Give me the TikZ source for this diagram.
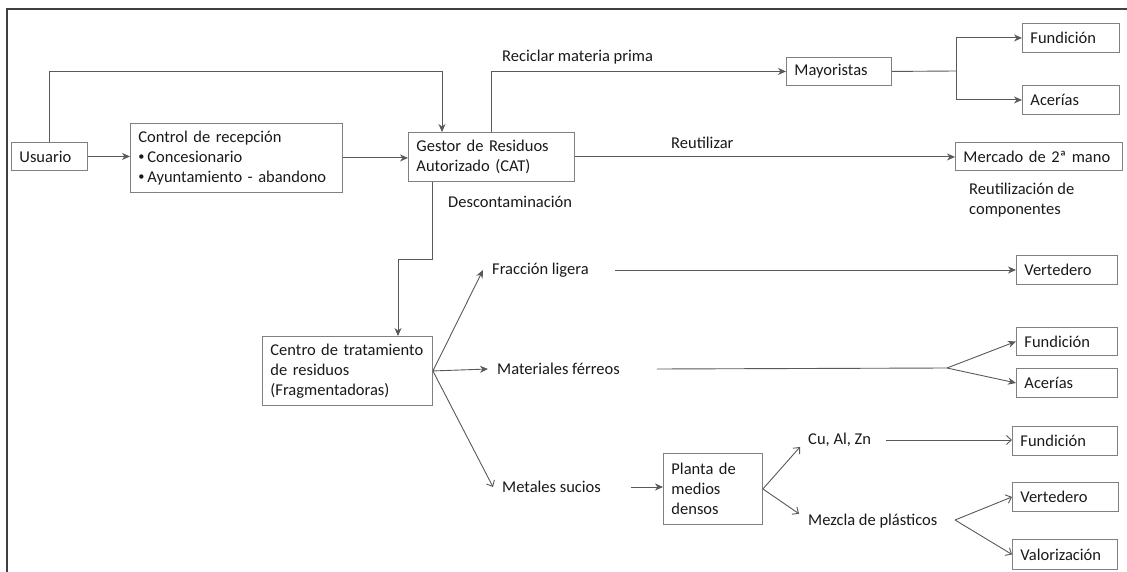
\documentclass[tikz,border=0pt]{standalone}
\usepackage{fontspec}
\setmainfont{Carlito}
\usetikzlibrary{positioning}
\usetikzlibrary{arrows.meta}
\usetikzlibrary{calc}
\tikzset{>={Stealth[length=8pt,width=7pt,inset=2.5pt]}}
\tikzset{caja/.style={draw=black!50, line width=0.9pt, anchor=north west, align=left, inner xsep=8pt, inner ysep=0pt, text=black!90}}
\tikzset{etq/.style={anchor=west, inner sep=0pt, text=black!90}}
\tikzset{flecha/.style={line width=0.9pt, draw=black!65}}
\tikzset{fino/.style={flecha, -{Straight Barb[length=5pt,width=9pt]}}}
\newcommand{\vineta}{\raisebox{0.12em}{\scalebox{0.75}{\textbullet}}\,}

\begin{document}
\begin{tikzpicture}[x=1pt, y=-1pt, font=\fontsize{16.5}{20}\selectfont]
\useasboundingbox (0,0) rectangle (1127,572);
% marco
\draw[black!75, line width=2pt] (7,572) -- (7,9) -- (1127,9);

% cajas
\node[caja, text width=60pt, minimum height=28pt] (usuario) at (11,142) {Usuario};
\node[caja, text width=196pt, minimum height=69pt] (control) at (130,123) {Control de recepción\\\vineta Concesionario\\\vineta Ayuntamiento - abandono};
\node[caja, text width=150pt, minimum height=49pt] (gestor) at (408,132) {Gestor de Residuos\\Autorizado (CAT)};
\node[caja, text width=89pt, minimum height=28pt] (mayoristas) at (786,57) {Mayoristas};
\node[caja, text width=81pt, minimum height=29pt] (fund1) at (1022,23) {Fundición};
\node[caja, text width=81pt, minimum height=29pt] (acer1) at (1022,85) {Acerías};
\node[caja, text width=151pt, minimum height=28pt] (mercado) at (955,142) {Mercado de 2ª mano};
\node[caja, text width=154pt, minimum height=69pt] (centro) at (262,336) {Centro de tratamiento\\de residuos\\(Fragmentadoras)};
\node[caja, text width=85pt, minimum height=29pt] (vert1) at (1016,255) {Vertedero};
\node[caja, text width=85pt, minimum height=28pt] (fund2) at (1016,327) {Fundición};
\node[caja, text width=85pt, minimum height=29pt] (acer2) at (1016,368) {Acerías};
\node[caja, text width=83pt, minimum height=71pt] (planta) at (663,453) {Planta de\\medios\\densos};
\node[caja, text width=89pt, minimum height=29pt] (fund3) at (1012,426) {Fundición};
\node[caja, text width=90pt, minimum height=29pt] (vert2) at (1012,482) {Vertedero};
\node[caja, text width=89pt, minimum height=30pt] (valor) at (1012,539) {Valorización};

% etiquetas
\node[etq] (reciclar) at (502,57) {Reciclar materia prima};
\node[etq] (reutilizar) at (671,143) {Reutilizar};
\node[etq] (descont) at (448,202) {Descontaminación};
\node[etq, align=left] (reutcomp) [below right=12pt and 14pt of mercado.south west] {Reutilización de\\componentes};
\node[etq] (fraccion) at (492,270) {Fracción ligera};
\node[etq] (ferreos) at (497,369) {Materiales férreos};
\node[etq] (metales) at (502,487) {Metales sucios};
\node[etq] (cualzn) at (808,440) {Cu, Al, Zn};
\node[etq] (mezcla) at (808,521) {Mezcla de plásticos};

% entrada
\draw[flecha,->] (usuario.east) -- (usuario.east -| control.west);
\draw[flecha,->] (control.east) -- (control.east -| gestor.west);
\coordinate (t1) at (442,71);
\draw[flecha,->] (usuario.north) |- (t1) -- (gestor.north -| t1);

% reciclar
\draw[flecha,->] (gestor.north) |- (mayoristas.west);
\coordinate (bm) at (956,71);
\draw[flecha] (mayoristas.east) -- (bm);
\draw[flecha,->] (bm) |- (fund1.west);
\draw[flecha,->] (bm) |- (acer1.west);

% reutilizar
\draw[flecha,->] (gestor.east) -- (gestor.east -| mercado.west);

% descontaminacion
\coordinate (d1) at (432,259);
\coordinate (d2) at (398,259);
\draw[flecha,->] (gestor.south -| d1) -- (d1) -- (d2) -- (centro.north -| d2);

% fragmentadoras
\draw[flecha,->] (centro.east) -- ([xshift=-9pt]fraccion.west);
\draw[flecha,->] (centro.east) -- ([xshift=-9pt]ferreos.west);
\draw[fino] (centro.east) -- ([xshift=-9pt]metales.west);
\draw[flecha,->] ([xshift=26pt]fraccion.east) -- (fraccion.east -| vert1.west);

\coordinate (bf) at (947,368);
\draw[flecha] ([xshift=37pt]ferreos.east) -- (bf);
\draw[flecha,->] (bf) -- (fund2.west);
\draw[flecha,->] (bf) -- (acer2.west);

\draw[flecha,->] ([xshift=30pt]metales.east) -- (metales.east -| planta.west);

% medios densos
\draw[fino] (planta.east) -- ([xshift=-8pt]cualzn.south west);
\draw[fino] (planta.east) -- ([xshift=-9pt]mezcla.north west);
\draw[fino] ([xshift=15pt]cualzn.east) -- (cualzn.east -| fund3.west);
\coordinate (bp) at (955,520);
\draw[fino] (bp) -- (vert2.west);
\draw[fino] (bp) -- (valor.west);
\end{tikzpicture}
\end{document}
